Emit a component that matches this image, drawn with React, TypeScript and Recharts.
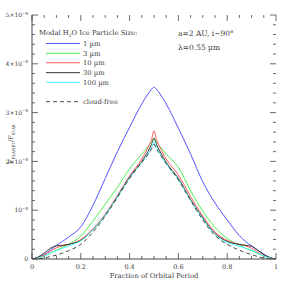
import React from "react";
import { LineChart, Line, XAxis, YAxis } from "recharts";

// Fraction of orbital period
const phase = [0, 0.025, 0.05, 0.075, 0.1, 0.125, 0.15, 0.2, 0.25, 0.3, 0.35, 0.4, 0.45, 0.475, 0.49, 0.5, 0.51, 0.525, 0.55, 0.6, 0.65, 0.7, 0.75, 0.8, 0.85, 0.875, 0.9, 0.925, 0.95, 0.975, 1];
// F_planet / F_star in units of 1e-8
const size1um = [0, 0.03, 0.09, 0.18, 0.28, 0.36, 0.45, 0.66, 1.1, 1.65, 2.2, 2.7, 3.18, 3.38, 3.48, 3.52, 3.48, 3.38, 3.18, 2.68, 2.15, 1.58, 1.15, 0.8, 0.48, 0.36, 0.27, 0.18, 0.1, 0.03, 0];
const size3um = [0, 0.02, 0.06, 0.12, 0.18, 0.24, 0.3, 0.47, 0.78, 1.12, 1.47, 1.85, 2.15, 2.3, 2.4, 2.44, 2.4, 2.3, 2.15, 1.88, 1.4, 0.98, 0.65, 0.42, 0.28, 0.22, 0.17, 0.11, 0.06, 0.02, 0];
const size10um = [0, 0.03, 0.08, 0.16, 0.23, 0.27, 0.3, 0.4, 0.62, 0.92, 1.3, 1.7, 2.05, 2.28, 2.45, 2.63, 2.45, 2.28, 2.05, 1.72, 1.28, 0.88, 0.55, 0.38, 0.3, 0.27, 0.22, 0.14, 0.07, 0.02, 0];
const size30um = [0, 0.04, 0.12, 0.22, 0.27, 0.28, 0.3, 0.38, 0.6, 0.9, 1.28, 1.68, 2.0, 2.2, 2.35, 2.48, 2.35, 2.2, 1.98, 1.65, 1.22, 0.84, 0.52, 0.36, 0.3, 0.28, 0.26, 0.18, 0.09, 0.03, 0];
const size100um = [0, 0.02, 0.06, 0.12, 0.17, 0.22, 0.27, 0.37, 0.6, 0.9, 1.27, 1.66, 1.98, 2.15, 2.28, 2.4, 2.28, 2.15, 1.95, 1.62, 1.2, 0.82, 0.5, 0.34, 0.26, 0.22, 0.18, 0.12, 0.06, 0.02, 0];
const cloudFree = [0, 0.005, 0.02, 0.05, 0.08, 0.12, 0.17, 0.3, 0.55, 0.88, 1.26, 1.65, 1.98, 2.14, 2.26, 2.35, 2.26, 2.14, 1.96, 1.62, 1.2, 0.8, 0.48, 0.3, 0.18, 0.13, 0.09, 0.05, 0.02, 0.005, 0];

const xTicks = [0, 0.05, 0.1, 0.15, 0.2, 0.25, 0.3, 0.35, 0.4, 0.45, 0.5, 0.55, 0.6, 0.65, 0.7, 0.75, 0.8, 0.85, 0.9, 0.95, 1];
const yTicks = [0, 0.2, 0.4, 0.6, 0.8, 1, 1.2, 1.4, 1.6, 1.8, 2, 2.2, 2.4, 2.6, 2.8, 3, 3.2, 3.4, 3.6, 3.8, 4, 4.2, 4.4, 4.6, 4.8, 5];
const xLabels = ["0", "0.2", "0.4", "0.6", "0.8", "1"];

const data = phase.map((p, i) => ({
  p,
  a: size1um[i],
  b: size3um[i],
  c: size10um[i],
  d: size30um[i],
  e: size100um[i],
  f: cloudFree[i],
}));

const W = 291;
const H = 291;
const PL = 32;
const PR = 276;
const PT = 15;
const PB = 259;
const FONT = "'DejaVu Serif', serif";
const AX = "#444";
const TXT = "#3a3a3a";

const isMajor = (v: number, step: number) => Math.abs(v / step - Math.round(v / step)) < 1e-6;

const XTick = (props: any) => {
  const { x, payload } = props;
  const v = payload.value;
  const major = isMajor(v, 0.2);
  const len = major ? 6 : 3;
  const lbl = major ? xLabels[Math.round(v / 0.2)] : null;
  return (
    <g>
      <line x1={x} x2={x} y1={PB} y2={PB - len} stroke={AX} strokeWidth={0.8} />
      <line x1={x} x2={x} y1={PT} y2={PT + len} stroke={AX} strokeWidth={0.8} />
      {lbl !== null && (
        <text x={x} y={267} textAnchor="middle" dy="0.35em" fontSize={6.5} fontFamily={FONT} fill={TXT}>
          {lbl}
        </text>
      )}
    </g>
  );
};

const YTick = (props: any) => {
  const { y, payload } = props;
  const v = payload.value;
  const major = isMajor(v, 1);
  const len = major ? 6 : 3;
  const n = Math.round(v);
  return (
    <g>
      <line x1={PL} x2={PL + len} y1={y} y2={y} stroke={AX} strokeWidth={0.8} />
      <line x1={PR} x2={PR - len} y1={y} y2={y} stroke={AX} strokeWidth={0.8} />
      {major && (
        <text x={28} y={y} textAnchor="end" dy="0.35em" fontSize={6} fontFamily={FONT} fill={TXT}>
          {n === 0 ? (
            "0"
          ) : (
            <>
              {n === 1 ? "10" : `${n}×10`}
              <tspan dy={-2.5} fontSize={4}>−8</tspan>
            </>
          )}
        </text>
      )}
    </g>
  );
};

const legendItems = [
  { label: "1 µm", color: "#5252ff", y: 43.5 },
  { label: "3 µm", color: "#4cf04c", y: 53.3 },
  { label: "10 µm", color: "#ff5c5c", y: 62.8 },
  { label: "30 µm", color: "#333333", y: 72.7 },
  { label: "100 µm", color: "#4cffff", y: 82.3 },
];

export default function App() {
  return (
    <div style={{ position: "absolute", left: 0, top: 0, width: W, height: H, background: "#fff" }}>
      <LineChart width={W} height={H} data={data} margin={{ top: PT, right: W - PR, bottom: 0, left: 0 }}>
        <XAxis
          dataKey="p"
          type="number"
          domain={[0, 1]}
          ticks={xTicks}
          interval={0}
          height={H - PB}
          tickLine={false}
          tick={<XTick />}
          axisLine={{ stroke: AX }}
          allowDataOverflow
        />
        <XAxis xAxisId="top" orientation="top" type="number" domain={[0, 1]} height={0} tick={false} tickLine={false} axisLine={{ stroke: AX }} />
        <YAxis
          type="number"
          domain={[0, 5]}
          ticks={yTicks}
          interval={0}
          width={PL}
          tickLine={false}
          tick={<YTick />}
          axisLine={{ stroke: AX }}
          allowDataOverflow
        />
        <YAxis yAxisId="r" orientation="right" type="number" domain={[0, 5]} width={0} tick={false} tickLine={false} axisLine={{ stroke: AX }} />
        <Line type="monotone" dataKey="a" stroke="#5252ff" strokeWidth={1} dot={false} isAnimationActive={false} />
        <Line type="monotone" dataKey="b" stroke="#4cf04c" strokeWidth={1} dot={false} isAnimationActive={false} />
        <Line type="monotone" dataKey="c" stroke="#ff5c5c" strokeWidth={1} dot={false} isAnimationActive={false} />
        <Line type="monotone" dataKey="d" stroke="#333333" strokeWidth={1} dot={false} isAnimationActive={false} />
        <Line type="monotone" dataKey="e" stroke="#4cffff" strokeWidth={1} dot={false} isAnimationActive={false} />
        <Line type="monotone" dataKey="f" stroke="#333333" strokeWidth={0.9} strokeDasharray="4 3" dot={false} isAnimationActive={false} />
      </LineChart>
      <svg width={W} height={H} style={{ position: "absolute", left: 0, top: 0, pointerEvents: "none" }}>
        <text x={39} y={33} dy="0.35em" fontSize={6.8} fontFamily={FONT} fill={TXT}>
          Modal H<tspan dy={2} fontSize={4.5}>2</tspan>
          <tspan dy={-2}>O Ice Particle Size:</tspan>
        </text>
        {legendItems.map((it) => (
          <g key={it.label}>
            <line x1={46} x2={80} y1={it.y} y2={it.y} stroke={it.color} strokeWidth={1} />
            <text x={83} y={it.y} dy="0.35em" fontSize={6.8} fontFamily={FONT} fill={TXT}>
              {it.label}
            </text>
          </g>
        ))}
        <line x1={46} x2={80} y1={101.7} y2={101.7} stroke="#333" strokeWidth={0.9} strokeDasharray="4 3" />
        <text x={83} y={101.7} dy="0.35em" fontSize={6.8} fontFamily={FONT} fill={TXT}>
          cloud-free
        </text>
        <text x={178} y={33} dy="0.35em" fontSize={7.5} fontFamily={FONT} fill={TXT}>
          a=2 AU, i~90°
        </text>
        <text x={178} y={47} dy="0.35em" fontSize={7.5} fontFamily={FONT} fill={TXT}>
          λ=0.55 µm
        </text>
        <text x={154} y={276} dy="0.35em" textAnchor="middle" fontSize={6.8} fontFamily={FONT} fill={TXT}>
          Fraction of Orbital Period
        </text>
        <text transform="translate(11,144) rotate(-90)" textAnchor="middle" dy="0.35em" fontSize={6.5} fontFamily={FONT} fill={TXT}>
          F<tspan dy={1.5} fontSize={4}>PLANET</tspan>
          <tspan dy={-1.5}>/F</tspan>
          <tspan dy={1.5} fontSize={4}>STAR</tspan>
        </text>
      </svg>
    </div>
  );
}
